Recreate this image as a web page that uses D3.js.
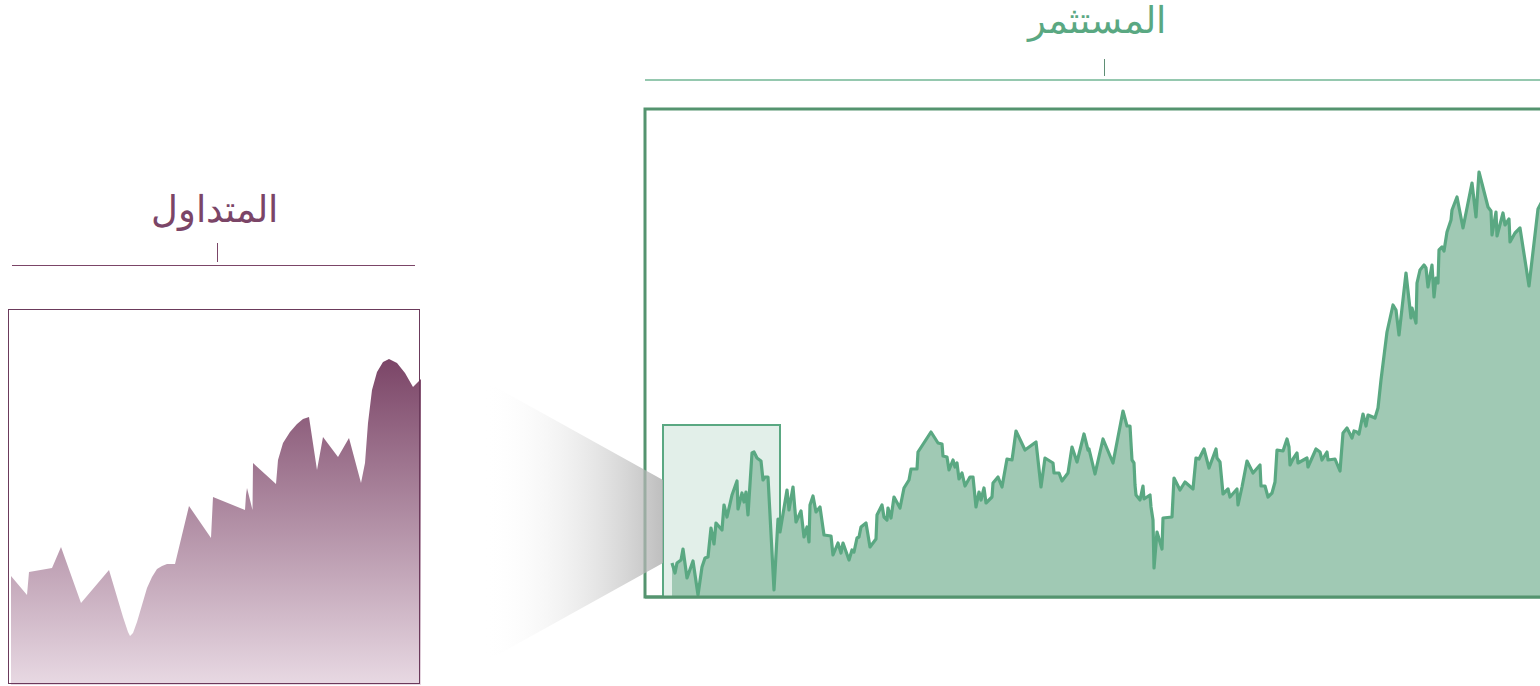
<!DOCTYPE html>
<html>
<head>
<meta charset="utf-8">
<script src="https://cdn.jsdelivr.net/npm/d3@7.8.5/dist/d3.min.js"></script>
<style>
  html, body { margin: 0; padding: 0; background: #fff; overflow: hidden; }
  svg { display: block; }
</style>
</head>
<body>
<div id="chart"></div>
<script>
// full series (context view, right)
const days = [0, 3, 5, 9, 11, 15, 21, 26, 30, 33, 36, 39, 42, 44, 50, 52, 55, 60, 65, 66, 70, 72, 74, 76, 80, 82, 85, 89, 91, 93, 96, 102, 106, 108,
  115, 117, 121, 124, 129, 132, 135, 137, 138, 141, 144, 148, 152, 159, 161, 166, 169, 171, 177, 180, 182, 185, 187, 189, 194, 198,
  204, 205, 210, 212, 215, 216, 219, 222, 228, 232, 237, 239, 245, 246, 259, 266, 270, 271, 275, 277, 281, 283, 285, 287, 290, 293,
  298, 301, 304, 307, 309, 312, 314, 320, 321, 326, 330, 335, 340, 341, 344, 353, 364, 369, 373, 381, 382, 387, 390, 396, 400, 405,
  412, 416, 417, 423, 431, 441, 451, 455, 458, 460, 462, 463, 464, 468, 471, 472, 478, 479, 481, 482, 485, 490, 491, 500, 502, 508,
  513, 521, 524, 527, 532, 537, 544, 545, 548, 551, 556, 558, 565, 566, 570, 575, 581, 588, 589, 593, 596, 600, 603, 605, 611, 615,
  617, 618, 621, 625, 626, 635, 636, 644, 648, 650, 655, 656, 663, 668, 671, 675, 680, 682, 685, 687, 691, 694, 696, 703, 706, 709,
  715, 721, 724, 727, 734, 739, 740, 744, 745, 748, 752, 754, 756, 760, 762, 764, 766, 767, 770, 772, 775, 779, 780, 785, 791, 800,
  804, 807, 816, 819, 820, 824, 825, 831, 833, 837, 838, 843, 848, 857, 866, 876];
const prices = [34, 24, 34, 37, 48, 19, 36, 2, 30, 39, 40, 69, 53, 74, 67, 92, 80, 102, 116, 88, 104, 95, 105, 82, 144, 145, 139, 136, 117, 120, 120, 7, 78, 65,
  107, 87, 110, 75, 86, 60, 70, 55, 92, 101, 85, 90, 62, 61, 42, 54, 44, 54, 37, 47, 45, 59, 60, 70, 74, 50,
  58, 82, 92, 80, 77, 89, 79, 100, 89, 109, 117, 128, 128, 145, 165, 154, 153, 141, 140, 127, 137, 130, 134, 118, 124, 111,
  120, 120, 90, 105, 97, 109, 94, 100, 114, 120, 110, 138, 137, 144, 166, 147, 155, 110, 139, 134, 124, 124, 116, 124, 150, 135,
  163, 147, 148, 123, 158, 134, 186, 171, 171, 137, 134, 112, 102, 97, 111, 98, 102, 90, 77, 29, 65, 48, 79, 80, 119, 107,
  115, 108, 139, 138, 148, 129, 148, 139, 135, 103, 108, 100, 108, 92, 110, 136, 124, 132, 111, 111, 100, 104, 115, 147, 146, 158,
  150, 132, 138, 144, 134, 139, 130, 148, 145, 137, 145, 137, 138, 126, 164, 169, 159, 166, 165, 163, 183, 171, 182, 179, 189, 217,
  265, 292, 287, 262, 324, 279, 289, 274, 314, 327, 332, 329, 310, 332, 300, 319, 314, 347, 350, 346, 365, 377, 387, 400, 369, 414,
  380, 425, 390, 386, 362, 385, 361, 384, 372, 378, 355, 364, 369, 311, 388, 407];

// selected window (focus view, left)
const focusDays = [0, 16, 18, 41, 50, 70, 98, 112, 117, 119, 122, 126, 131, 136, 141, 146, 151, 156, 164, 178, 200, 202,
  234, 235, 236, 241.5, 242, 265, 267, 272, 279, 286, 292, 298, 306, 312, 327, 338, 350, 354, 357, 361, 366, 372, 378, 386, 394, 402, 410];
const focusPrices = [107, 88, 111, 115, 136, 80, 113, 66, 51, 47, 50, 61, 78, 95, 106, 114, 117, 119, 119, 177, 145, 186,
  173, 188, 195, 173, 220, 199, 223, 240, 251, 259, 264, 266, 213, 246, 226, 245, 200, 220, 260, 293, 311, 321, 324, 320, 310, 296, 304];

const brushWindow = [[-9, 0], [108, 172]];
const titles = { focus: 'المتداول', context: 'المستثمر' };

const W = 1540, H = 686;
const svg = d3.select('#chart').append('svg')
  .attr('width', W).attr('height', H)
  .attr('viewBox', `0 0 ${W} ${H}`);

const defs = svg.append('defs');

// ---------- context (right) ----------
const ctx = { left: 645, right: 1563, top: 109, bottom: 597 };
const x2 = d3.scaleLinear().domain([0, 876]).range([672, 1548]);
const y2 = d3.scaleLinear().domain([0, 488]).range([ctx.bottom, ctx.top]);
const ctxData = days.map((d, i) => ({ d, v: prices[i] }));

// axis line + title
svg.append('line')
  .attr('x1', ctx.left).attr('x2', ctx.right)
  .attr('y1', 80).attr('y2', 80)
  .attr('stroke', '#72b694').attr('stroke-width', 1.5);
svg.append('line')
  .attr('x1', 1104.5).attr('x2', 1104.5)
  .attr('y1', 59).attr('y2', 76)
  .attr('stroke', '#5f8f75').attr('stroke-width', 1);
svg.append('text')
  .attr('x', 1097).attr('y', 33)
  .attr('text-anchor', 'middle')
  .attr('font-family', 'DejaVu Sans')
  .attr('font-weight', 300)
  .attr('font-size', 37)
  .attr('fill', '#5aa882')
  .text(titles.context);

// frame
svg.append('rect')
  .attr('x', ctx.left).attr('y', ctx.top)
  .attr('width', ctx.right - ctx.left).attr('height', ctx.bottom - ctx.top)
  .attr('fill', 'none')
  .attr('stroke', '#54946f').attr('stroke-width', 3);

// brush window
svg.append('rect')
  .attr('x', x2(brushWindow[0][0])).attr('y', y2(brushWindow[1][1]))
  .attr('width', x2(brushWindow[1][0]) - x2(brushWindow[0][0]))
  .attr('height', y2(brushWindow[0][1]) - y2(brushWindow[1][1]))
  .attr('fill', '#e2efe9')
  .attr('stroke', '#5aa882').attr('stroke-width', 2);

const area2 = d3.area().x(p => x2(p.d)).y0(y2(0)).y1(p => y2(p.v));
const line2 = d3.line().x(p => x2(p.d)).y(p => y2(p.v));

svg.append('path').datum(ctxData)
  .attr('d', area2)
  .attr('fill', '#a0c9b4');
svg.append('path').datum(ctxData)
  .attr('d', line2)
  .attr('fill', 'none')
  .attr('stroke', '#5aa882')
  .attr('stroke-width', 3.2)
  .attr('stroke-linejoin', 'round');

// bottom edge redrawn over area
svg.append('line')
  .attr('x1', ctx.left).attr('x2', ctx.right)
  .attr('y1', ctx.bottom).attr('y2', ctx.bottom)
  .attr('stroke', '#54946f').attr('stroke-width', 3);

// ---------- focus (left) ----------
const foc = { left: 8.5, right: 419.5, top: 309.5, bottom: 683.5 };
const x1 = d3.scaleLinear().domain([0, 411]).range([11, 422]);
const y1 = d3.scaleLinear().domain([0, 374]).range([683, 309]);
const focData = focusDays.map((d, i) => ({ d, v: focusPrices[i] }));

svg.append('line')
  .attr('x1', 12).attr('x2', 415)
  .attr('y1', 265.5).attr('y2', 265.5)
  .attr('stroke', '#7b4567').attr('stroke-width', 1);
svg.append('line')
  .attr('x1', 217.5).attr('x2', 217.5)
  .attr('y1', 243).attr('y2', 262)
  .attr('stroke', '#7b4567').attr('stroke-width', 1);
svg.append('text')
  .attr('x', 214).attr('y', 222)
  .attr('text-anchor', 'middle')
  .attr('font-family', 'DejaVu Sans')
  .attr('font-weight', 300)
  .attr('font-size', 37)
  .attr('fill', '#7b4567')
  .text(titles.focus);

const grad = defs.append('linearGradient')
  .attr('id', 'focusFill')
  .attr('x1', '0%').attr('y1', '0%')
  .attr('x2', '0%').attr('y2', '100%');
grad.append('stop').attr('offset', '0%').attr('stop-color', '#7b4567');
grad.append('stop').attr('offset', '100%').attr('stop-color', '#e8d9e3');

const area1 = d3.area()
  .x(p => x1(p.d)).y0(685).y1(p => y1(p.v));

svg.append('path').datum(focData)
  .attr('d', area1)
  .attr('fill', 'url(#focusFill)');

svg.append('rect')
  .attr('x', foc.left).attr('y', foc.top)
  .attr('width', foc.right - foc.left).attr('height', foc.bottom - foc.top)
  .attr('fill', 'none')
  .attr('stroke', '#6b3a5b').attr('stroke-width', 1);

// ---------- zoom funnel ----------
const fg = defs.append('linearGradient')
  .attr('id', 'funnelFill')
  .attr('x1', '0%').attr('y1', '0%')
  .attr('x2', '100%').attr('y2', '0%');
fg.append('stop').attr('offset', '0%').attr('stop-color', '#ffffff').attr('stop-opacity', 0);
fg.append('stop').attr('offset', '100%').attr('stop-color', '#aeaeae').attr('stop-opacity', 0.8);

const bx = x2(brushWindow[0][0]);
svg.append('path')
  .attr('d', `M483,380L${bx},480L${bx},563L483,663Z`)
  .attr('fill', 'url(#funnelFill)');
</script>
</body>
</html>
